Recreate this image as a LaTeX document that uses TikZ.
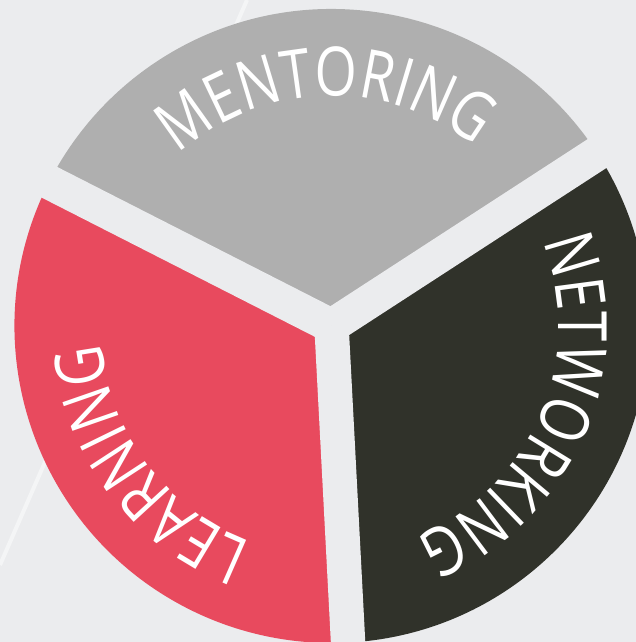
\documentclass[tikz,border=0pt]{standalone}
\usepackage{fontspec}
\setmainfont{Open Sans}
\newfontfamily\slicefont[FakeStretch=0.8]{Open Sans}
\usepackage{tikz}
\usetikzlibrary{decorations.text}
\definecolor{bgcol}{HTML}{EBECEE}
\definecolor{mentorcol}{HTML}{AFAFAF}
\definecolor{learncol}{HTML}{E84A5E}
\definecolor{networkcol}{HTML}{30322A}
\definecolor{streakcol}{HTML}{F4F5F6}
\tikzset{
    gapline/.style = {draw=bgcol, line width=17.2pt, line cap=butt},
    streak/.style = {draw=streakcol, line width=2pt},
    slicetext/.style = {decorate, decoration={text along path, text align=center,
      text color=white, text={|\slicefont\fontsize{34}{34}\selectfont|#1}}}
}

\begin{document}
\begin{tikzpicture}[x=0.5pt, y=0.5pt]
    \useasboundingbox (-331.5,-316) rectangle (304.5,326);
    \fill[bgcol] (-331.5,-316) rectangle (304.5,326);
    \coordinate (hub) at (0,0);

    % faint streaks of the backdrop
    \draw[streak] (-84.5,326) -- (-331.5,-239);
    \draw[streak] (131.5,113) -- (177.5,93);

    % the three slices
    \fill[mentorcol] (hub) -- (33:317) arc[start angle=33, end angle=153, radius=317] -- cycle;
    \fill[learncol] (hub) -- (153:317) arc[start angle=153, end angle=273, radius=317] -- cycle;
    \fill[networkcol] (hub) -- (273:317) arc[start angle=273, end angle=393, radius=317] -- cycle;

    % gaps between slices
    \draw[gapline] (hub) -- (33:340);
    \draw[gapline] (hub) -- (153:340);
    \draw[gapline] (hub) -- (273:340);

    % labels on the rim
    \path[slicetext=MENTORING] (161.5:230) arc[start angle=161.5, end angle=21.5, radius=230];
    \path[slicetext=LEARNING] (287:230) arc[start angle=287, end angle=147, radius=230];
    \path[slicetext=NETWORKING] (46.7:227) arc[start angle=46.7, end angle=-93.3, radius=227];
\end{tikzpicture}
\end{document}
